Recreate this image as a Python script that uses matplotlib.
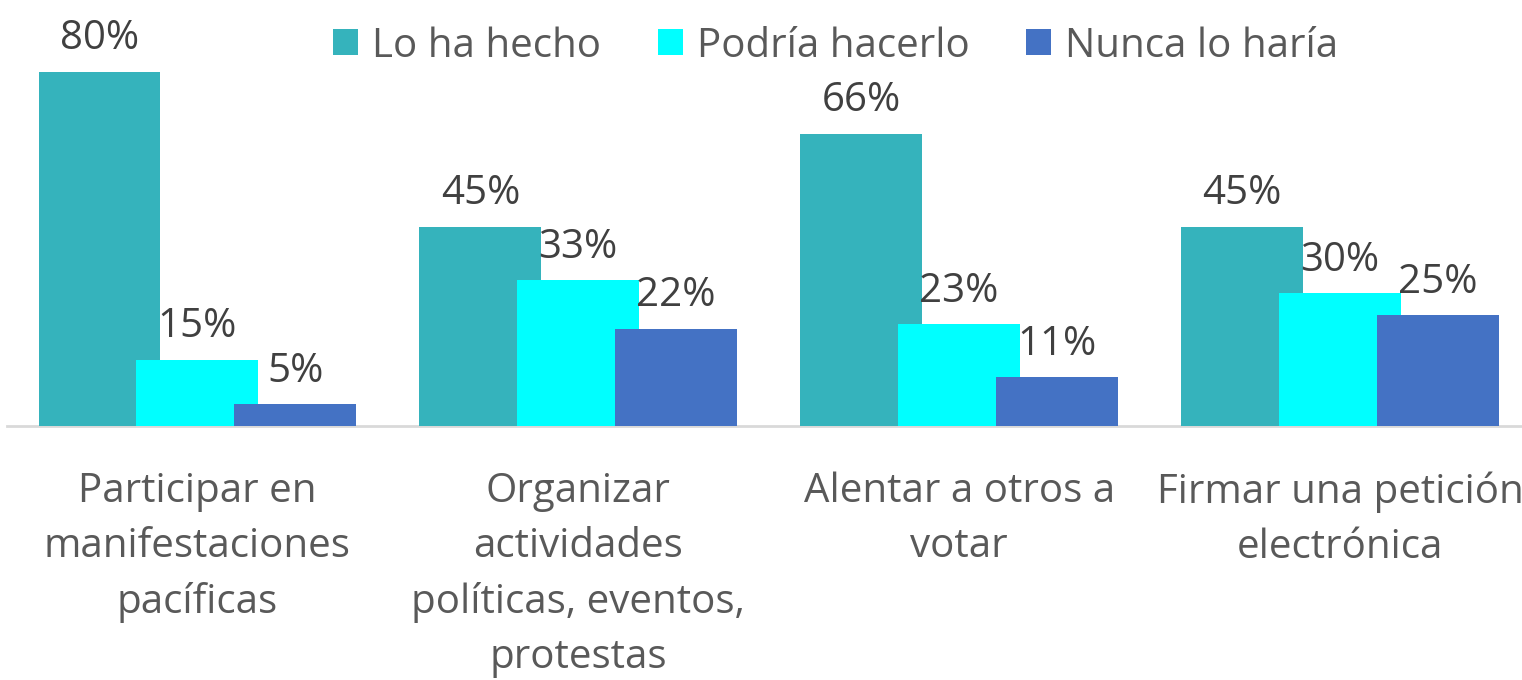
import matplotlib.pyplot as plt
import numpy as np

categorias = [
    'Participar en\nmanifestaciones\npacíficas',
    'Organizar\nactividades\npolíticas, eventos,\nprotestas',
    'Alentar a otros a\nvotar',
    'Firmar una petición\nelectrónica',
]
series = ['Lo ha hecho', 'Podría hacerlo', 'Nunca lo haría']
lo_ha_hecho = [80, 45, 66, 45]
podria_hacerlo = [15, 33, 23, 30]
nunca_lo_haria = [5, 22, 11, 25]

colores = ['#35B3BC', '#00FFFF', '#4472C4']

plt.rcParams['font.family'] = ['Open Sans', 'DejaVu Sans']
tam = 29

fig = plt.figure(figsize=(15.22, 6.8), dpi=100)
ax = fig.add_axes([7 / 1522, 254 / 680, 1523.5 / 1522, 398.7 / 680])

x = np.arange(len(categorias))
ancho = 0.32
paso = 0.257

valores = [lo_ha_hecho, podria_hacerlo, nunca_lo_haria]
for i, (nombre, vals) in enumerate(zip(series, valores)):
    pos = x + (i - 1) * paso
    barras = ax.bar(pos, vals, width=ancho, color=colores[i], label=nombre,
                    zorder=2 + i)
    for b, v in zip(barras, vals):
        ax.text(b.get_x() + b.get_width() / 2, v + 5, f'{v}%',
                ha='center', va='baseline', fontsize=tam, color='#404040',
                clip_on=False, zorder=10)

ax.set_xlim(-0.5, 3.5)
ax.set_ylim(0, 90)
ax.set_xticks(x)
ax.set_xticklabels(categorias, fontsize=tam, color='#595959', linespacing=1.47)
ax.tick_params(axis='x', length=0, pad=33)
ax.set_yticks([])
for lado in ['top', 'right', 'left']:
    ax.spines[lado].set_visible(False)
ax.spines['bottom'].set_color('#D9D9D9')
ax.spines['bottom'].set_linewidth(2)
ax.spines['bottom'].set_zorder(1)

fig.legend(loc='upper center', bbox_to_anchor=(0.549, 1.015), ncol=3,
           frameon=False, fontsize=tam, handlelength=0.62, handleheight=0.62,
           handletextpad=0.35, columnspacing=1.4, labelcolor='#595959')

fig.savefig('out.png', dpi=100)
